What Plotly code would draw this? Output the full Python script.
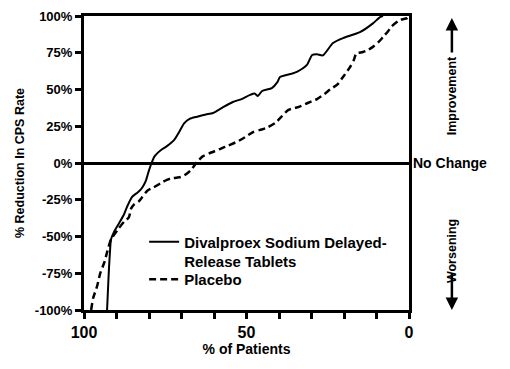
import plotly.graph_objects as go

# Divalproex Sodium Delayed-Release Tablets (solid)
div_x = [92.9, 92.6, 92.3, 92.0, 91.7, 90.8, 89.5, 87.7, 86.8, 85.2, 83.5, 82.5, 81.6, 80.9, 80.0,
         79.2, 78.3, 76.3, 74.5, 72.3, 70.5, 69.2, 67.5, 65.2, 62.5, 60.3, 57.2, 54.2, 51.5, 48.9,
         47.5, 46.5, 45.2, 42.2, 40.5, 39.7, 36.5, 34.5, 31.4, 29.8, 28.3, 26.5, 23.4, 20.3, 15.1,
         11.1, 8.9, 8.0]
div_y = [-100, -85, -71, -60, -52, -47, -42, -35, -30, -23, -20, -18, -15, -11.6, -5,
         0, 4.5, 8.8, 11.5, 15.6, 22, 27, 30, 31.5, 33, 34, 38, 41.5, 43.5, 46.3,
         47.3, 45.6, 49, 51, 55, 58.5, 60.5, 62, 66.7, 73.5, 74, 73.2, 81.6, 85, 89,
         95, 99.3, 100]

# Placebo (dashed)
pla_x = [97.8, 97.2, 96.0, 95.0, 93.8, 92.8, 91.7, 89.5, 87.7, 86.2, 85.5, 84.5, 83.1, 82.0, 80.6,
         78.5, 76.3, 74.5, 73.2, 71.5, 70.2, 68.5, 67.1, 65.2, 63.5, 61.5, 58.2, 55.5, 52.9, 50.5,
         48.0, 45.8, 43.7, 41.0, 39.0, 37.2, 35.0, 33.5, 31.0, 28.3, 26.0, 24.3, 22.0, 20.3, 18.2,
         17.0, 16.2, 14.2, 12.5, 11.1, 9.5, 8.0, 6.5, 5.3, 2.8, 0.6, 0.0]
pla_y = [-100, -92, -84, -75, -68, -60, -52, -45, -40, -37, -31, -28, -26, -23, -19,
         -16.5, -13.6, -11.5, -10.5, -10, -9.5, -7.5, -4.8, 0.7, 4.5, 6.5, 9.5, 12, 14.5, 17.5,
         21, 22.5, 24, 27.5, 32, 36, 37.5, 38.5, 41, 43.5, 47, 50, 53.5, 58.5, 65,
         70, 74.5, 75.5, 77, 79, 82, 85.7, 89.5, 93, 97.3, 98.6, 100]

x_tickvals = [100, 90, 80, 70, 60, 50, 40, 30, 20, 10, 0]
x_ticktext = ["100", "", "", "", "", "50", "", "", "", "", "0"]
y_tickvals = [-100, -75, -50, -25, 0, 25, 50, 75, 100]
y_ticktext = ["-100%", "-75%", "-50%", "-25%", "0%", "25%", "50%", "75%", "100%"]

FONT = "Liberation Sans, Arial, Helvetica, sans-serif"

fig = go.Figure()
fig.add_trace(go.Scatter(x=div_x, y=div_y, mode="lines",
                         line=dict(color="black", width=2, shape="spline", smoothing=0.6),
                         name="Divalproex Sodium Delayed-<br>Release Tablets", legend="legend"))
fig.add_trace(go.Scatter(x=pla_x, y=pla_y, mode="lines",
                         line=dict(color="black", width=2.5, dash="7px,4px", shape="spline", smoothing=0.6),
                         name="Placebo", legend="legend2"))

leg_font = dict(family=FONT, size=15, color="black", weight="bold")
fig.update_layout(
    width=510, height=369,
    margin=dict(l=84, r=101, t=16, b=59),
    paper_bgcolor="white", plot_bgcolor="white",
    showlegend=True,
    legend=dict(x=0.185, y=0.287, xanchor="left", yanchor="top", bgcolor="rgba(0,0,0,0)",
                font=leg_font, valign="top", itemwidth=30),
    legend2=dict(x=0.185, y=0.16, xanchor="left", yanchor="top", bgcolor="rgba(0,0,0,0)",
                 font=leg_font, valign="top", itemwidth=30),
    xaxis=dict(range=[100, 0], tickvals=x_tickvals, ticktext=x_ticktext, automargin=False,
               showline=True, linewidth=3, linecolor="black", mirror=True,
               ticks="outside", ticklen=6, tickwidth=3, tickcolor="black",
               showgrid=False, zeroline=False,
               tickfont=dict(family=FONT, size=16, color="black", weight="bold"),
               title=dict(text="% of Patients", standoff=4,
                          font=dict(family=FONT, size=14, color="black", weight="bold"))),
    yaxis=dict(range=[-100, 100], tickvals=y_tickvals, ticktext=y_ticktext, automargin=False,
               showline=True, linewidth=3, linecolor="black", mirror=True,
               ticks="outside", ticklen=6, tickwidth=3, tickcolor="black",
               showgrid=False, zeroline=True, zerolinewidth=3, zerolinecolor="black",
               tickfont=dict(family=FONT, size=13, color="black", weight="bold"),
               title=dict(text="% Reduction In CPS Rate", standoff=8,
                          font=dict(family=FONT, size=12.5, color="black", weight="bold"))),
)

fig.add_annotation(xref="paper", yref="y", x=1.005, y=0, xanchor="left", yanchor="middle",
                   text="No Change", showarrow=False,
                   font=dict(family=FONT, size=14, color="black", weight="bold"))
fig.add_annotation(xref="paper", yref="paper", x=1.132, y=0.73, text="Improvement", textangle=-90,
                   showarrow=False, xanchor="center", yanchor="middle",
                   font=dict(family=FONT, size=12.5, color="black", weight="bold"))
fig.add_annotation(xref="paper", yref="paper", x=1.132, y=0.2, text="Worsening", textangle=-90,
                   showarrow=False, xanchor="center", yanchor="middle",
                   font=dict(family=FONT, size=12.5, color="black", weight="bold"))
# arrows (pixel offsets for tails)
fig.add_annotation(xref="paper", yref="paper", x=1.132, y=0.993, ax=0, ay=36,
                   text="", showarrow=True, arrowhead=2, arrowsize=1,
                   arrowwidth=2.5, arrowcolor="black")
fig.add_annotation(xref="paper", yref="paper", x=1.132, y=0.0, ax=0, ay=-38,
                   text="", showarrow=True, arrowhead=2, arrowsize=1,
                   arrowwidth=2.5, arrowcolor="black")

fig.write_html("out.html", config={"displayModeBar": False},
               post_script="document.body.style.margin='0';")
